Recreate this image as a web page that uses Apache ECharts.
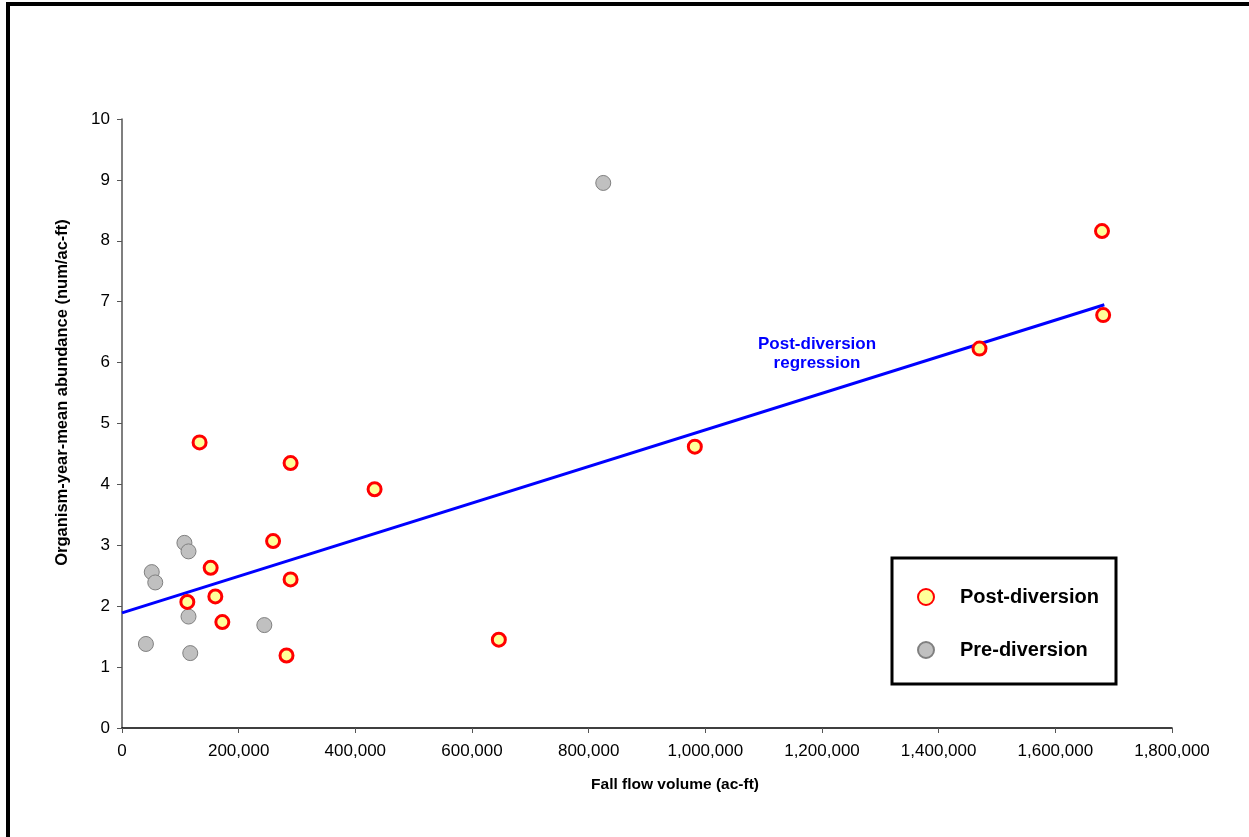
<!DOCTYPE html>
<html>
<head>
<meta charset="utf-8">
<script src="https://cdn.jsdelivr.net/npm/echarts@6/dist/echarts.min.js"></script>
<style>
  html, body { margin: 0; padding: 0; background: #fff; }
  #main { width: 1249px; height: 837px; }
</style>
</head>
<body>
<div id="main"></div>
<script>
// fall flow volume (ac-ft) vs abundance (num/ac-ft)
const postX = [133000, 289000, 433000, 259000, 152000, 289000, 160000, 112000, 172000, 282000, 646000, 982000, 1470000, 1680000, 1682000];
const postY = [4.69, 4.35, 3.92, 3.07, 2.63, 2.44, 2.16, 2.07, 1.74, 1.19, 1.45, 4.62, 6.23, 8.16, 6.78];

const preX = [107000, 114000, 51000, 57000, 114000, 41000, 117000, 244000, 825000];
const preY = [3.04, 2.90, 2.56, 2.39, 1.83, 1.38, 1.23, 1.69, 8.95];

// regression end points
const regX = [0, 1684000];
const regY = [1.89, 6.95];

const FONT = 'Arial, "Liberation Sans", sans-serif';

const chart = echarts.init(document.getElementById('main'));

const option = {
  backgroundColor: '#fff',
  animation: false,
  grid: { left: 122, right: 77, top: 119, bottom: 109 },
  xAxis: {
    type: 'value',
    min: 0,
    max: 1800000,
    interval: 200000,
    splitLine: { show: false },
    axisLine: { lineStyle: { color: '#000', width: 1.5 } },
    axisTick: { lineStyle: { color: '#555' }, length: 5 },
    axisLabel: {
      color: '#000', fontSize: 17, fontFamily: FONT, margin: 15,
      formatter: v => v.toLocaleString('en-US')
    },
    name: 'Fall flow volume (ac-ft)',
    nameLocation: 'middle',
    nameGap: 49,
    nameTextStyle: { color: '#000', fontSize: 15.5, fontWeight: 'bold', fontFamily: FONT, padding: [0, 0, 0, 56] }
  },
  yAxis: {
    type: 'value',
    min: 0,
    max: 10,
    interval: 1,
    splitLine: { show: false },
    axisLine: { show: true, lineStyle: { color: '#555', width: 1.5 } },
    axisTick: { show: true, lineStyle: { color: '#555' }, length: 5 },
    axisLabel: { color: '#000', fontSize: 17, fontFamily: FONT, margin: 12 },
    name: 'Organism-year-mean abundance (num/ac-ft)',
    nameLocation: 'middle',
    nameGap: 51,
    nameTextStyle: { color: '#000', fontSize: 16.5, fontWeight: 'bold', fontFamily: FONT, padding: [0, 0, 0, 62] }
  },
  legend: {
    orient: 'vertical',
    left: 912,
    top: 582,
    itemGap: 33,
    itemWidth: 16,
    itemHeight: 16,
    data: ['Post-diversion', 'Pre-diversion'],
    textStyle: { color: '#000', fontSize: 20, fontWeight: 'bold', fontFamily: FONT, padding: [0, 0, 0, 21] }
  },
  graphic: [
    {
      type: 'rect',
      shape: { x: 8, y: 4, width: 1300, height: 900 },
      style: { fill: 'none', stroke: '#000', lineWidth: 4 },
      silent: true
    },
    {
      type: 'rect',
      shape: { x: 892, y: 558, width: 224, height: 126 },
      style: { fill: '#fff', stroke: '#000', lineWidth: 3 },
      z: 0
    },
    {
      type: 'text',
      left: 758,
      top: 335,
      style: {
        text: 'Post-diversion\nregression',
        fill: '#0000ff',
        font: 'bold 17px ' + FONT,
        textAlign: 'center',
        lineHeight: 19
      }
    }
  ],
  series: [
    {
      name: 'Regression',
      type: 'line',
      data: regX.map((x, i) => [x, regY[i]]),
      showSymbol: false,
      lineStyle: { color: '#0000ff', width: 3 },
      z: 2
    },
    {
      name: 'Pre-diversion',
      type: 'scatter',
      data: preX.map((x, i) => [x, preY[i]]),
      symbol: 'circle',
      symbolSize: 15,
      itemStyle: { color: '#c0c0c0', borderColor: '#808080', borderWidth: 1, opacity: 1 },
      z: 3
    },
    {
      name: 'Post-diversion',
      type: 'scatter',
      data: postX.map((x, i) => [x, postY[i]]),
      symbol: 'circle',
      symbolSize: 13,
      itemStyle: { color: '#ffff99', borderColor: '#ff0000', borderWidth: 3, opacity: 1 },
      z: 4
    }
  ]
};

chart.setOption(option);
</script>
</body>
</html>
